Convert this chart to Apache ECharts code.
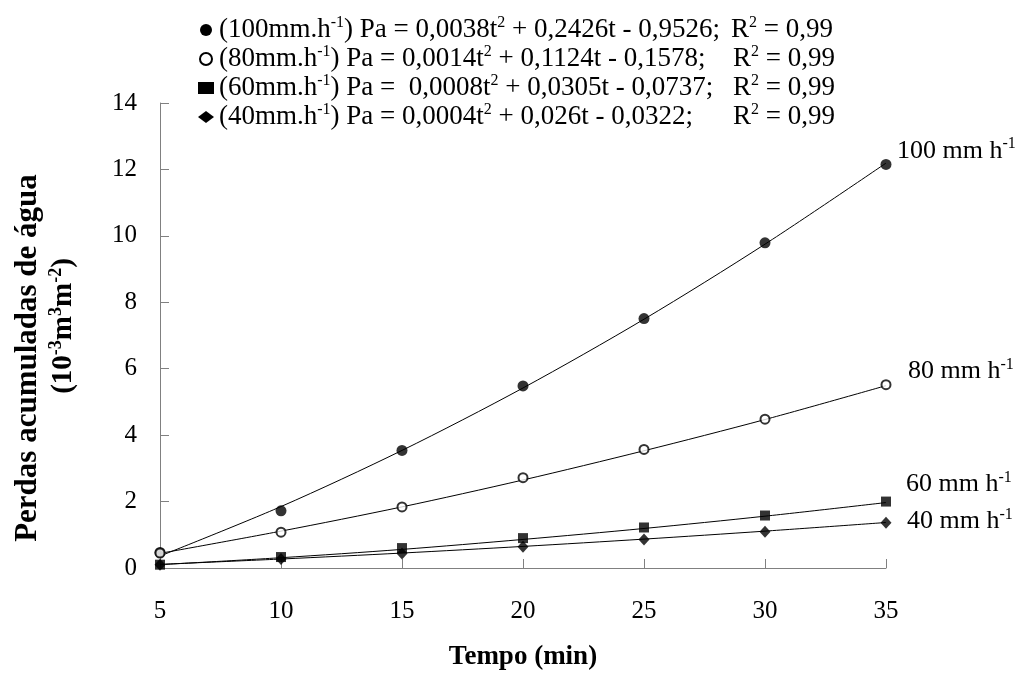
<!DOCTYPE html>
<html>
<head>
<meta charset="utf-8">
<script src="https://cdn.jsdelivr.net/npm/echarts@6/dist/echarts.min.js"></script>
<style>html,body{margin:0;padding:0;background:#fff;}#c{width:1018px;height:676px;}</style>
</head>
<body>
<div id="c"></div>
<script>
// ---- data ----
const tempo = [5, 10, 15, 20, 25, 30, 35];
const obs100 = [0.47, 1.72, 3.54, 5.48, 7.51, 9.79, 12.15];
const obs80  = [0.45, 1.08, 1.84, 2.72, 3.57, 4.48, 5.52];
const obs60  = [0.10, 0.33, 0.60, 0.90, 1.22, 1.58, 2.00];
const obs40  = [0.10, 0.27, 0.44, 0.64, 0.86, 1.09, 1.36];
// fitted curves (as drawn)
const fit100 = [0.36, 1.85, 3.54, 5.42, 7.49, 9.75, 12.19];
const fit80  = [0.44, 1.11, 1.84, 2.65, 3.53, 4.47, 5.49];
const fit60  = [0.10, 0.31, 0.56, 0.86, 1.19, 1.56, 1.97];
const fit40  = [0.11, 0.27, 0.45, 0.65, 0.87, 1.11, 1.37];
const seriesNames = ['100', '80', '60', '40'];
const legendTexts = [
  '(100mm.h{s|-1}) Pa = 0,0038t{s|2} + 0,2426t - 0,9526;',
  '(80mm.h{s|-1}) Pa = 0,0014t{s|2} + 0,1124t - 0,1578;',
  '(60mm.h{s|-1}) Pa =  0,0008t{s|2} + 0,0305t - 0,0737;',
  '(40mm.h{s|-1}) Pa = 0,0004t{s|2} + 0,026t - 0,0322;'
];
const r2Texts = ['R{s|2} = 0,99', 'R{s|2} = 0,99', 'R{s|2} = 0,99', 'R{s|2} = 0,99'];
const endLabels = ['100 mm h{s|-1}', '80 mm h{s|-1}', '60 mm h{s|-1}', '40 mm h{s|-1}'];
const yTicks = [0, 2, 4, 6, 8, 10, 12, 14];
const xTicks = [5, 10, 15, 20, 25, 30, 35];

const FONT = 'Liberation Serif';
const LH = 30;           // line box for normal text
const ROW = 29;          // legend row pitch
const LEG_TOP = 15;
const supStyle = { fontSize: 16, fontFamily: FONT, color: '#000', verticalAlign: 'top', lineHeight: 14 };

const obsSets = [obs100, obs80, obs60, obs40];
const fitSets = [fit100, fit80, fit60, fit40];
const symbols = ['circle', 'emptyCircle', 'rect', 'diamond'];
const symSizes = [11, 9, 10, [11, 12]];
const endOffsets = [[11, -12], [22, -14], [20, -18], [21, -1]];
const r2X = [731, 733, 733, 733];

const series = [];
seriesNames.forEach((n, i) => {
  series.push({
    name: n, type: 'line', data: tempo.map((t, k) => [t, fitSets[i][k]]),
    smooth: 0.3, showSymbol: false, symbol: 'none', silent: true,
    lineStyle: { color: '#000', width: 1 }, itemStyle: { color: '#000' },
    endLabel: {
      show: true, distance: 0, offset: endOffsets[i],
      formatter: () => endLabels[i],
      fontFamily: FONT, fontSize: 26, color: '#000', lineHeight: LH,
      rich: { s: supStyle }
    },
    z: 2
  });
  series.push({
    name: n, type: 'scatter', data: tempo.map((t, k) => [t, obsSets[i][k]]),
    symbol: symbols[i], symbolSize: symSizes[i],
    itemStyle: { color: '#000', borderColor: '#000', borderWidth: i === 1 ? 2 : 0 },
    z: 3
  });
});

const graphics = [
  { type: 'text', x: 28, y: 358, rotation: Math.PI / 2,
    style: { text: 'Perdas acumuladas de água', font: 'bold 31px "Liberation Serif"', fill: '#000', align: 'center', verticalAlign: 'middle' } },
  { type: 'text', x: 64, y: 326, rotation: Math.PI / 2,
    style: { text: '(10{s|-3}m{s|3}m{s|-2})', fontFamily: FONT, fontSize: 29, fontWeight: 'bold', fill: '#000', lineHeight: 34,
      align: 'center', verticalAlign: 'middle',
      rich: { s: { fontSize: 18, fontFamily: FONT, fontWeight: 'bold', fill: '#000', verticalAlign: 'top', lineHeight: 16 } } } }
];
r2Texts.forEach((t, i) => {
  graphics.push({ type: 'text', x: r2X[i], y: LEG_TOP + LH / 2 + i * ROW,
    style: { text: t, fontFamily: FONT, fontSize: 27, fill: '#000', lineHeight: LH, align: 'left', verticalAlign: 'middle',
      rich: { s: { fontSize: 16, fontFamily: FONT, fill: '#000', verticalAlign: 'top', lineHeight: 14 } } } });
});

const chart = echarts.init(document.getElementById('c'), null, { renderer: 'canvas' });
chart.setOption({
  animation: false,
  backgroundColor: '#fff',
  grid: { left: 160, right: 132, top: 103, bottom: 106, containLabel: false },
  legend: {
    data: seriesNames.map((n, i) => ({ name: n, icon: symbols[i] })),
    orient: 'vertical', left: 198, top: LEG_TOP, padding: 0,
    itemWidth: 16, itemHeight: 12, itemGap: ROW - LH, symbolKeepAspect: true,
    formatter: name => legendTexts[seriesNames.indexOf(name)],
    textStyle: { fontFamily: FONT, fontSize: 27, color: '#000', lineHeight: LH, rich: { s: supStyle } },
    selectedMode: false
  },
  xAxis: {
    type: 'value', min: 5, max: 35, interval: 5,
    name: 'Tempo (min)', nameLocation: 'middle', nameGap: 76,
    nameTextStyle: { fontFamily: FONT, fontSize: 27, fontWeight: 'bold', color: '#000' },
    axisLine: { lineStyle: { color: '#808080', width: 1 } },
    axisTick: { inside: true, length: 9, lineStyle: { color: '#808080' } },
    axisLabel: { margin: 31, fontFamily: FONT, fontSize: 25, color: '#000',
      formatter: v => xTicks.includes(v) ? String(v) : '' },
    splitLine: { show: false }
  },
  yAxis: {
    type: 'value', min: 0, max: 14, interval: 2,
    axisLine: { show: true, lineStyle: { color: '#808080', width: 1 } },
    axisTick: { show: true, inside: true, length: 9, lineStyle: { color: '#808080' } },
    axisLabel: { margin: 23, fontFamily: FONT, fontSize: 25, color: '#000',
      formatter: v => yTicks.includes(v) ? String(v) : '' },
    splitLine: { show: false }
  },
  graphic: graphics,
  series: series
});
</script>
</body>
</html>
